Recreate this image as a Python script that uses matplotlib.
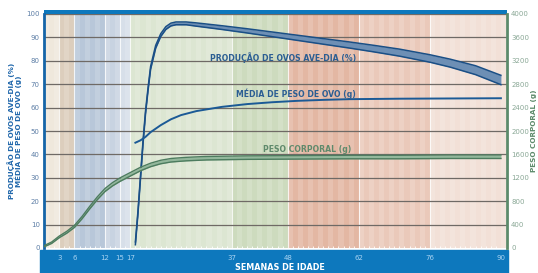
import numpy as np
import matplotlib.pyplot as plt
from matplotlib.patches import Rectangle

# weeks and values
prod_weeks = [18, 18.5, 19, 19.5, 20, 20.5, 21, 22, 23, 24, 25, 26, 28, 30, 35, 40, 45,
              50, 55, 60, 65, 70, 76, 80, 85, 90]
prod_mid = [2, 15, 30, 45, 58, 68, 77, 86, 91, 94, 95.5, 96, 96, 95.5, 94.2, 92.8, 91.3,
            89.8, 88.3, 86.8, 85.2, 83.5, 81, 79, 76, 71.8]
prod_spread = [0.6, 0.6, 0.6, 0.6, 0.6, 0.6, 0.6, 0.6, 0.6, 0.6, 0.6, 0.6, 0.6, 0.7, 0.8, 0.9, 1.0,
               1.1, 1.2, 1.3, 1.4, 1.5, 1.6, 1.7, 1.9, 2.0]

egg_weeks = [18, 19, 20, 21, 23, 25, 27, 30, 35, 40, 45, 50, 55, 60, 70, 80, 90]
egg_weight = [45, 46, 47.5, 49.5, 52.5, 55, 56.8, 58.5, 60.3, 61.5, 62.3, 62.9, 63.3, 63.6, 63.8, 63.9, 64]

bw_weeks = [0, 1.5, 3, 4.5, 6, 7.5, 9, 10.5, 12, 13.5, 15, 17, 19, 21, 23, 25, 28, 32, 40, 50, 60, 70, 80, 90]
bw_grams = [30, 90, 190, 270, 370, 520, 690, 850, 990, 1090, 1170, 1260, 1350, 1420, 1470, 1500, 1520,
            1535, 1545, 1550, 1555, 1555, 1560, 1560]
bw_spread = [10, 12, 14, 16, 18, 20, 22, 24, 26, 28, 30, 30, 30, 30, 30, 30, 30, 30, 30, 30, 30, 30, 30, 30]

week_ticks = [3, 6, 12, 15, 17, 37, 48, 62, 76, 90]
band_edges = [0, 3, 6, 12, 15, 17, 37, 48, 62, 76, 91]
band_colors = ['#efe8dc', '#dccebd', '#b8c7d9', '#c8d3e1', '#d7dfe9', '#dce6d2',
               '#cddbbe', '#e3b7a3', '#eac9ba', '#f2e0d7']

blue = '#1a4f86'
bar_blue = '#0d78bd'
green = '#4d7c5f'

fig = plt.figure(figsize=(5.38, 2.73), dpi=100)
ax = fig.add_axes([44 / 538, 25 / 273, 463 / 538, 234 / 273])
ax.set_xlim(0, 91.2)
ax.set_ylim(0, 100)

# background bands with faint weekly stripes
for i in range(len(band_colors)):
    ax.axvspan(band_edges[i], band_edges[i + 1], color=band_colors[i], lw=0, zorder=0)
for w in range(0, 91, 2):
    ax.axvspan(w, w + 1, color='white', alpha=0.15, lw=0, zorder=0.5)
for w in week_ticks[:-1]:
    ax.axvline(w, color='white', lw=0.8, alpha=0.8, zorder=0.6)

for y in range(10, 101, 10):
    ax.axhline(y, color='#6f6a66', lw=0.9, zorder=1)

# egg production band
pw = np.array(prod_weeks)
pm = np.array(prod_mid)
ps = np.array(prod_spread)
ax.fill_between(pw, pm - ps, pm + ps, color='#6d8fb5', lw=0, zorder=3)
ax.plot(pw, pm + ps, color=blue, lw=1.1, zorder=4)
ax.plot(pw, pm - ps, color=blue, lw=1.1, zorder=4)

# egg weight
ax.plot(egg_weeks, egg_weight, color='#1b5a96', lw=1.4, zorder=4)

# body weight on right axis
ax2 = ax.twinx()
ax2.set_ylim(0, 4000)
bw = np.array(bw_grams)
bs = np.array(bw_spread)
ax2.fill_between(bw_weeks, bw - bs, bw + bs, color='#93b89c', lw=0, zorder=3)
ax2.plot(bw_weeks, bw + bs, color=green, lw=1.0, zorder=4)
ax2.plot(bw_weeks, bw - bs, color=green, lw=1.0, zorder=4)

ax.text(47, 81.5, 'PRODUÇÃO DE OVOS AVE-DIA (%)', color='#2b5e93', fontsize=5.6,
        fontweight='bold', ha='center', va='center', zorder=5)
ax.text(49.6, 65.8, 'MÉDIA DE PESO DE OVO (g)', color='#2b5e93', fontsize=5.6,
        fontweight='bold', ha='center', va='center', zorder=5)
ax.text(51.8, 41.9, 'PESO CORPORAL (g)', color='#5f8a6c', fontsize=5.6,
        fontweight='bold', ha='center', va='center', zorder=5)

# axes styling
for s in ['top', 'bottom']:
    ax.spines[s].set_visible(False)
    ax2.spines[s].set_visible(False)
ax2.spines['left'].set_visible(False)
ax.spines['right'].set_visible(False)
ax.spines['left'].set_color('#1565a8')
ax.spines['left'].set_linewidth(2)
ax2.spines['right'].set_color('#5c8a6a')
ax2.spines['right'].set_linewidth(2)

ax.set_yticks(range(0, 101, 10))
ax.tick_params(axis='y', length=0, labelsize=5, labelcolor='#5d7ea6', pad=3)
ax2.set_yticks(range(0, 4001, 400))
ax2.tick_params(axis='y', length=0, labelsize=5, labelcolor='#8aa896', pad=3)

ax.set_xticks(week_ticks)
ax.set_xticks(range(1, 91), minor=True)
ax.tick_params(axis='x', which='both', direction='in', length=1.5, width=0.6, color='white',
               labelsize=5, labelcolor='#a8d3f2', pad=5)
ax.tick_params(axis='x', which='major', length=0)

ax.set_ylabel('PRODUÇÃO DE OVOS AVE-DIA (%)\nMÉDIA DE PESO DE OVO (g)', color='#2067ab',
              fontsize=5.2, fontweight='bold', labelpad=3, linespacing=1.0)
ax2.set_ylabel('PESO CORPORAL (g)', color='#5c8a6a', fontsize=5.2, fontweight='bold', labelpad=1)

# blue bars top and bottom
fig.patches.append(Rectangle((40 / 538, 0), 468 / 538, 23.5 / 273, transform=fig.transFigure,
                             color=bar_blue, zorder=0))
ax.axhspan(100, 101.8, color=bar_blue, lw=0, zorder=2, clip_on=False)
ax.set_ylim(0, 100)
ax.set_zorder(1)
ax2.set_zorder(2)
ax2.patch.set_visible(False)
ax.patch.set_visible(False)

fig.text(280 / 538, 0.004, 'SEMANAS DE IDADE', color='white', fontsize=5.8, fontweight='bold',
         ha='center', va='bottom')

fig.savefig('out.png', dpi=100)
